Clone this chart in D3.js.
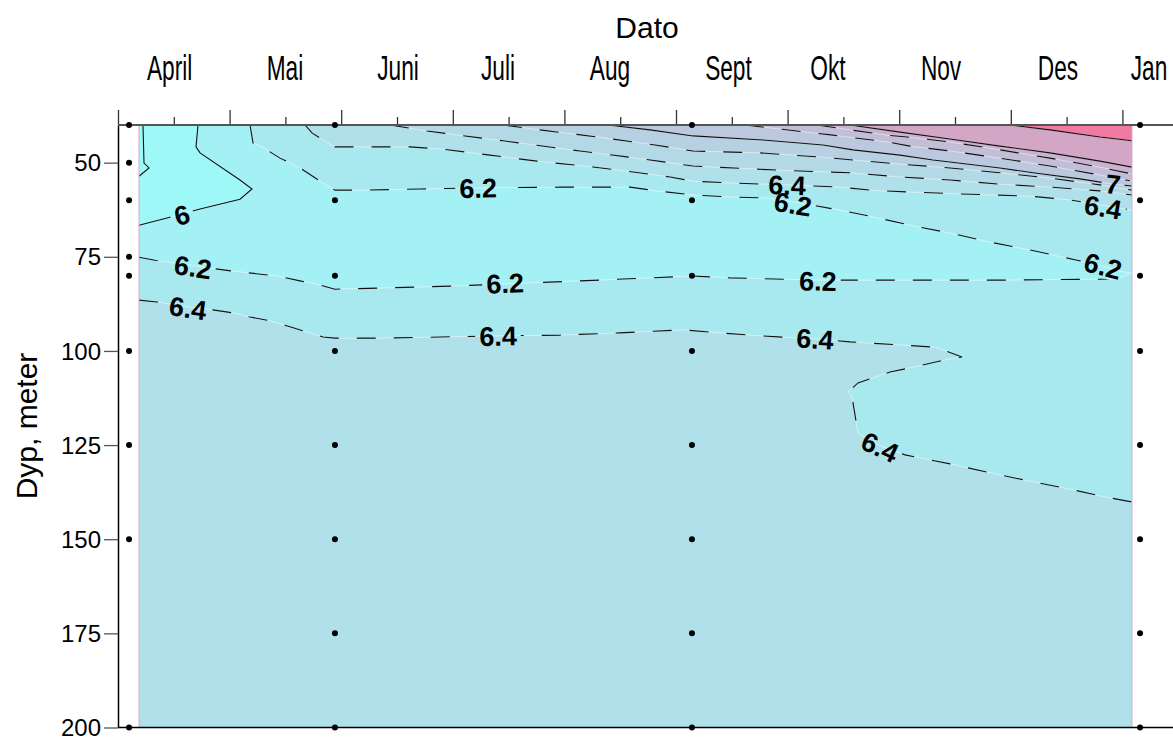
<!DOCTYPE html>
<html><head><meta charset="utf-8">
<script src="https://cdn.jsdelivr.net/npm/d3@7"></script>
<style>
body{margin:0;background:#fff;}
svg{display:block;}
text{font-family:"Liberation Sans",Arial,sans-serif;}
</style>
</head><body>
<svg id="c" width="1173" height="738"></svg>
<script>
// ---------------- DATA ----------------
// x in "month units" (0 = start of April tick), depth in metres
const monthNames   = ["April","Mai","Juni","Juli","Aug","Sept","Okt","Nov","Des","Jan"];
const monthLabelAt = [0.463,1.496,2.509,3.405,4.409,5.470,6.362,7.375,8.423,9.238];
const majorTicks   = [0,1,2,3,4,5,6,7,8,9];
const minorTicks   = [0.5,1.5,2.5,3.5,4.5,5.5,6.5,7.5,8.5];
const depthTicks   = [50,75,100,125,150,175,200];
const dataStart = 0.188, dataEnd = 9.086;   // extent of the gridded section
const depthTop = 40, depthBottom = 200;

const stationDates  = [0.099, 1.944, 5.143, 9.158];
const stationDepths = [
  [40,50,60,75,80,100,125,150,200],
  [40,60,80,100,125,150,175,200],
  [40,60,80,100,125,150,175,200],
  [40,60,80,100,125,150,175,200]
];

// contour lines: [date, depth]
const c58 = [[0.224,40],[0.233,50.1],[0.278,51.4],[0.188,53.6]];
const c60 = [[0.717,40],[0.699,45.8],[0.735,47.4],[1.093,54.6],[1.201,57.0],[1.093,59.7],[0.735,62.3],[0.439,64.7],[0.188,66.6]];
const c62u = [[1.183,40],[1.210,44.8],[1.290,45.8],[1.452,48.8],[1.631,51.4],[1.837,55.4],[1.944,57.3],[2.213,57.3],[2.706,57.0],[3.226,56.7],[3.961,56.5],[4.588,56.5],[4.830,57.5],[5.152,58.6],[5.484,59.1],[5.842,59.4],[6.048,60.4],[6.470,62.6],[6.765,64.4],[7.097,66.6],[7.455,68.7],[7.814,71.1],[8.172,73.2],[8.593,75.9],[8.826,77.4],[8.978,78.8],[9.086,79.3]];
const c62l = [[0.188,75.1],[0.332,75.9],[0.672,77.4],[1.030,78.8],[1.425,80.1],[1.631,81.4],[1.810,82.5],[1.944,83.6],[2.348,83.3],[2.975,82.8],[3.468,82.2],[4.140,81.4],[4.767,80.6],[5.143,80.1],[5.484,80.6],[6.272,81.2],[7.903,81.2],[8.952,80.9],[9.086,79.3]];
const c64l = [[0.188,86.5],[0.349,87.0],[0.627,88.3],[0.851,89.1],[1.030,89.9],[1.183,91.0],[1.362,92.0],[1.541,93.6],[1.694,95.0],[1.837,96.3],[1.944,96.6],[2.348,96.6],[2.885,96.3],[3.405,96.0],[3.961,95.8],[4.498,95.2],[5.063,94.4],[5.394,95.2],[5.753,96.0],[6.246,96.8],[6.559,97.6],[7.007,98.4],[7.321,99.0],[7.563,101.6],[7.455,102.1],[7.124,104.3],[6.918,105.6],[6.738,107.4],[6.631,108.5],[6.541,110.9],[6.577,112.2],[6.604,117.0],[6.631,121.8],[6.828,125.2],[7.052,127.6],[7.455,130.0],[7.993,133.5],[8.530,136.7],[8.799,138.5],[9.086,140.1]];
const c64u = [[1.676,40],[1.738,42.1],[1.882,44.8],[1.944,45.8],[2.213,45.8],[2.616,45.8],[2.903,46.4],[3.333,48.0],[3.754,49.6],[4.274,51.2],[4.615,52.5],[4.946,53.8],[5.152,54.9],[5.484,55.4],[5.995,55.9],[6.470,56.5],[6.738,57.3],[7.097,57.8],[7.545,58.3],[8.172,58.9],[8.530,59.9],[8.799,61.2],[9.086,62.6]];
const c66 = [[2.437,40],[2.769,41.6],[3.450,44.2],[4.140,46.9],[4.651,48.8],[5.152,50.9],[5.932,52.0],[6.559,52.7],[7.007,53.8],[7.455,54.6],[7.903,55.7],[8.351,56.5],[8.799,57.5],[9.086,58.6]];
const c68 = [[3.450,40],[3.781,41.3],[4.301,43.2],[4.812,45.3],[5.152,46.9],[5.753,47.4],[6.290,48.5],[7.007,50.4],[7.455,51.4],[7.903,52.7],[8.351,54.1],[8.799,55.9],[9.086,57.3]];
const c70 = [[4.391,40],[4.767,41.3],[5.152,42.9],[5.780,44.0],[6.317,45.3],[6.586,46.6],[7.007,48.0],[7.303,49.3],[7.903,51.4],[8.199,52.7],[8.620,54.3],[8.916,55.7],[9.086,56.2]];
const c72 = [[5.618,40],[6.084,41.6],[6.407,42.7],[6.891,44.5],[7.097,45.6],[7.455,46.9],[7.903,48.8],[8.351,50.9],[8.799,53.3],[9.086,54.9]];
const c74 = [[6.263,40],[6.559,41.3],[6.891,42.7],[7.070,43.2],[7.455,44.5],[7.903,46.6],[8.351,48.8],[8.799,51.2],[9.086,53.0]];
const c76 = [[6.559,40],[7.007,41.9],[7.455,43.7],[7.903,45.6],[8.351,47.4],[8.799,49.6],[9.086,51.2]];
const c80 = [[7.993,40],[8.351,41.3],[8.799,43.2],[9.086,44.2]];

// contour labels: text, contour, position [date, depth]
const labelTexts = ["6","6.2","6.4","6.2","6.2","6.4","6.4","6.2","6.2","6.4","6.4","7","6.4","6.2"];
const labelLines = ["c60","c62l","c64l","c62u","c62l","c64l","c64u","c62u","c62l","c64l","c64l","c70","c64u","c62u"];
const labelAt = [[0.573,63.9],[0.672,77.7],[0.627,88.6],[3.226,56.7],[3.468,82.0],[3.405,96.0],[5.995,55.9],[6.048,61.0],[6.272,81.4],[6.246,96.8],[6.828,125.5],[8.916,55.7],[8.826,61.8],[8.826,77.4]];

// ---------------- STYLE ----------------
const col = {
  c58:"#9cfafa", c60:"#9ff8f8", band60:"#a3f1f5", base:"#a8e9f0", deep:"#b0e0ea",
  c64u:"#b0e0ea", c66:"#b3d9e6", c68:"#b7d1e2", c70:"#bcc8dd", c72:"#c2bed8",
  c74:"#c9b3d1", c76:"#d4a6c6", c80:"#f07aa2"
};
const lines = {c58, c60, c62u, c62l, c64l, c64u, c66, c68, c70, c72, c74, c76, c80};
const solid = new Set(["c58","c60","c70","c76","c80"]);

// ---------------- CHART ----------------
const W = 1173, H = 738;
const svg = d3.select("#c");
const x = d3.scaleLinear().domain([0, 9]).range([118, 1122.4]);
const y = d3.scaleLinear().domain([depthTop, depthBottom]).range([125, 727.5]);
const path = d3.line().x(d => x(d[0])).y(d => y(d[1]));

const defs = svg.append("defs");
defs.append("clipPath").attr("id","plot").append("rect")
  .attr("x", x(dataStart)).attr("y", y(depthTop))
  .attr("width", x(dataEnd) - x(dataStart)).attr("height", y(depthBottom) - y(depthTop));

const gFill = svg.append("g").attr("clip-path","url(#plot)");
gFill.append("rect").attr("x", x(dataStart)).attr("y", y(depthTop))
  .attr("width", x(dataEnd) - x(dataStart)).attr("height", y(depthBottom) - y(depthTop))
  .attr("fill", col.base);

const TL=[dataStart,depthTop], TR=[dataEnd,depthTop], BL=[dataStart,depthBottom], BR=[dataEnd,depthBottom];
function poly(pts, c){ gFill.append("path").attr("d", path(pts) + "Z").attr("fill", c); }
poly([...c64l, BR, BL], col.deep);
poly([...c62u, ...c62l.slice().reverse(), TL], col.band60);
poly([...c60, TL], col.c60);
poly([...c58, TL], col.c58);
["c64u","c66","c68","c70","c72","c74","c76","c80"].forEach(k => poly([...lines[k], TR], col[k]));

// light seams along the fill boundaries
Object.keys(lines).forEach(k => {
  gFill.append("path").attr("d", path(lines[k])).attr("fill","none")
    .attr("stroke","rgba(255,255,255,0.55)").attr("stroke-width",0.9);
});

// label geometry
function angleOn(pts, cx, cy){
  const P = pts.map(p => [x(p[0]), y(p[1])]);
  const cum = [0];
  for (let i=1;i<P.length;i++) cum.push(cum[i-1] + Math.hypot(P[i][0]-P[i-1][0], P[i][1]-P[i-1][1]));
  let best = {d:Infinity, s:0};
  for (let i=1;i<P.length;i++){
    const ax=P[i-1][0], ay=P[i-1][1], bx=P[i][0], by=P[i][1];
    const L2=(bx-ax)**2+(by-ay)**2; let t = L2 ? ((cx-ax)*(bx-ax)+(cy-ay)*(by-ay))/L2 : 0;
    t = Math.max(0, Math.min(1, t));
    const px=ax+t*(bx-ax), py=ay+t*(by-ay), dd=Math.hypot(cx-px, cy-py);
    if (dd < best.d) best = {d:dd, s:cum[i-1] + t*Math.sqrt(L2)};
  }
  function at(s){
    s = Math.max(0, Math.min(cum[cum.length-1], s));
    for (let i=1;i<P.length;i++){
      if (s <= cum[i] || i === P.length-1){
        const seg = cum[i]-cum[i-1]; const t = seg ? (s-cum[i-1])/seg : 0;
        return [P[i-1][0]+t*(P[i][0]-P[i-1][0]), P[i-1][1]+t*(P[i][1]-P[i-1][1])];
      }
    }
  }
  const a = at(best.s-16), b = at(best.s+16);
  let ang = Math.atan2(b[1]-a[1], b[0]-a[0]) * 180 / Math.PI;
  if (ang > 90) ang -= 180; if (ang < -90) ang += 180;
  return ang;
}

const mask = defs.append("mask").attr("id","lblmask").attr("maskUnits","userSpaceOnUse")
  .attr("x",0).attr("y",0).attr("width",W).attr("height",H);
mask.append("rect").attr("x",0).attr("y",0).attr("width",W).attr("height",H).attr("fill","#fff");

const gLinesClip = svg.append("g").attr("clip-path","url(#plot)");
const gLines = gLinesClip.append("g").attr("mask","url(#lblmask)");
Object.keys(lines).forEach(k => {
  gLines.append("path").attr("d", path(lines[k])).attr("fill","none")
    .attr("stroke","#111").attr("stroke-width",1.1)
    .attr("stroke-dasharray", solid.has(k) ? null : "19,18");
});

const gLbl = svg.append("g");
labelTexts.forEach((t, i) => {
  const cx = x(labelAt[i][0]), cy = y(labelAt[i][1]);
  const ang = angleOn(lines[labelLines[i]], cx, cy);
  const tx = gLbl.append("text").text(t)
    .attr("transform", `translate(${cx},${cy}) rotate(${ang})`)
    .attr("text-anchor","middle").attr("dy","0.36em")
    .attr("font-size",27).attr("font-weight","bold").attr("fill","#000");
  const w = tx.node().getComputedTextLength() + 8;
  mask.append("rect").attr("x",-w/2).attr("y",-12).attr("width",w).attr("height",24)
    .attr("fill","#000").attr("transform", `translate(${cx},${cy}) rotate(${ang})`);
});

// thin pinkish edges of the gridded section
[dataStart, dataEnd].forEach(v => {
  svg.append("line").attr("x1", x(v)).attr("x2", x(v)).attr("y1", y(depthTop)).attr("y2", y(depthBottom))
    .attr("stroke","#d9abc9").attr("stroke-width",1);
});

// left axis
const gy = svg.append("g").attr("transform", `translate(${x(0)},0)`)
  .call(d3.axisLeft(y).tickValues(depthTicks).tickSize(14).tickSizeOuter(0).tickPadding(3));
gy.select(".domain").attr("stroke","#000").attr("stroke-width",1.5);
gy.selectAll(".tick line").attr("stroke","#555").attr("stroke-width",1.3);
gy.selectAll(".tick text").attr("font-size",24).attr("font-family","Liberation Sans, Arial, sans-serif").attr("fill","#000").attr("dy","0.34em");

// top axis
const gxM = svg.append("g").attr("transform", `translate(0,${y(depthTop)})`)
  .call(d3.axisTop(x).tickValues(majorTicks).tickSize(15).tickSizeOuter(0).tickFormat(""));
const gxm = svg.append("g").attr("transform", `translate(0,${y(depthTop)})`)
  .call(d3.axisTop(x).tickValues(minorTicks).tickSize(8).tickSizeOuter(0).tickFormat(""));
[gxM, gxm].forEach(g => { g.select(".domain").remove(); g.selectAll(".tick line").attr("stroke","#333").attr("stroke-width",1.3); });
svg.append("line").attr("x1", x(0)).attr("x2", W).attr("y1", y(depthTop)).attr("y2", y(depthTop))
  .attr("stroke","#555").attr("stroke-width",2);
svg.append("line").attr("x1", x(0)).attr("x2", W).attr("y1", y(depthBottom)).attr("y2", y(depthBottom))
  .attr("stroke","#000").attr("stroke-width",1.5);

// month labels (narrow)
monthNames.forEach((m, i) => {
  svg.append("text").text(m)
    .attr("transform", `translate(${x(monthLabelAt[i])},80) scale(0.63,1)`)
    .attr("text-anchor","middle").attr("font-size",36).attr("fill","#000");
});

// titles
svg.append("text").text("Dato").attr("x",647).attr("y",38).attr("text-anchor","middle")
  .attr("font-size",30).attr("fill","#000");
svg.append("text").text("Dyp, meter").attr("transform","translate(37,426) rotate(-90)")
  .attr("text-anchor","middle").attr("font-size",30).attr("fill","#000");

// sampling points
const gDots = svg.append("g");
stationDates.forEach((d, i) => {
  stationDepths[i].forEach(z => {
    gDots.append("circle").attr("cx", x(d)).attr("cy", y(z)).attr("r", 3).attr("fill","#000");
  });
});
</script>
</body></html>
